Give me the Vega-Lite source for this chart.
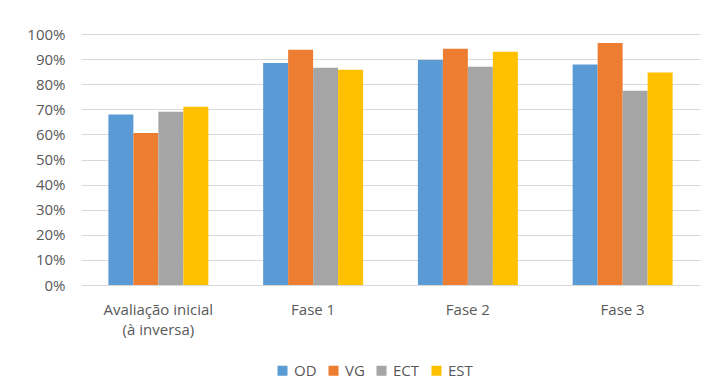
{
  "$schema": "https://vega.github.io/schema/vega-lite/v6.json",
  "width": 619,
  "height": 251,
  "autosize": "none",
  "padding": {"left": 81, "top": 34, "right": 9, "bottom": 106},
  "background": "white",
  "config": {
    "view": {"stroke": null},
    "font": "Open Sans"
  },
  "data": {
    "values": [
      {"fase": "Avaliação inicial (à inversa)", "grupo": "OD", "valor": 0.679},
      {"fase": "Avaliação inicial (à inversa)", "grupo": "VG", "valor": 0.606},
      {"fase": "Avaliação inicial (à inversa)", "grupo": "ECT", "valor": 0.690},
      {"fase": "Avaliação inicial (à inversa)", "grupo": "EST", "valor": 0.710},
      {"fase": "Fase 1", "grupo": "OD", "valor": 0.884},
      {"fase": "Fase 1", "grupo": "VG", "valor": 0.937},
      {"fase": "Fase 1", "grupo": "ECT", "valor": 0.866},
      {"fase": "Fase 1", "grupo": "EST", "valor": 0.858},
      {"fase": "Fase 2", "grupo": "OD", "valor": 0.896},
      {"fase": "Fase 2", "grupo": "VG", "valor": 0.941},
      {"fase": "Fase 2", "grupo": "ECT", "valor": 0.870},
      {"fase": "Fase 2", "grupo": "EST", "valor": 0.929},
      {"fase": "Fase 3", "grupo": "OD", "valor": 0.878},
      {"fase": "Fase 3", "grupo": "VG", "valor": 0.964},
      {"fase": "Fase 3", "grupo": "ECT", "valor": 0.774},
      {"fase": "Fase 3", "grupo": "EST", "valor": 0.847}
    ]
  },
  "mark": {"type": "bar"},
  "encoding": {
    "x": {
      "field": "fase",
      "type": "nominal",
      "sort": null,
      "scale": {"paddingInner": 0.354, "paddingOuter": 0.177},
      "axis": {
        "title": null,
        "labelAngle": 0,
        "ticks": false,
        "domain": false,
        "labelFontSize": 15,
        "labelColor": "#595959",
        "labelPadding": 17,
        "labelLineHeight": 20,
        "labelBaseline": "top",
        "labelExpr": "datum.label == 'Avaliação inicial (à inversa)' ? ['Avaliação inicial', '(à inversa)'] : datum.label"
      }
    },
    "xOffset": {
      "field": "grupo",
      "type": "nominal",
      "sort": ["OD", "VG", "ECT", "EST"],
      "scale": {"paddingInner": 0, "paddingOuter": 0}
    },
    "y": {
      "field": "valor",
      "type": "quantitative",
      "scale": {"domain": [0, 1]},
      "axis": {
        "title": null,
        "format": ".0%",
        "values": [0, 0.1, 0.2, 0.3, 0.4, 0.5, 0.6, 0.7, 0.8, 0.9, 1],
        "ticks": false,
        "domain": false,
        "gridColor": "#D9D9D9",
        "gridWidth": 1,
        "labelFontSize": 15,
        "labelColor": "#595959",
        "labelPadding": 16
      }
    },
    "color": {
      "field": "grupo",
      "type": "nominal",
      "scale": {
        "domain": ["OD", "VG", "ECT", "EST"],
        "range": ["#5B9BD5", "#ED7D31", "#A5A5A5", "#FFC000"]
      },
      "legend": {
        "title": null,
        "orient": "none",
        "direction": "horizontal",
        "legendX": 194,
        "legendY": 329,
        "symbolType": "square",
        "symbolSize": 100,
        "symbolStrokeWidth": 0,
        "symbolOpacity": 1,
        "labelFontSize": 15,
        "labelColor": "#595959",
        "labelOffset": 4,
        "columnPadding": 9
      }
    }
  }
}
